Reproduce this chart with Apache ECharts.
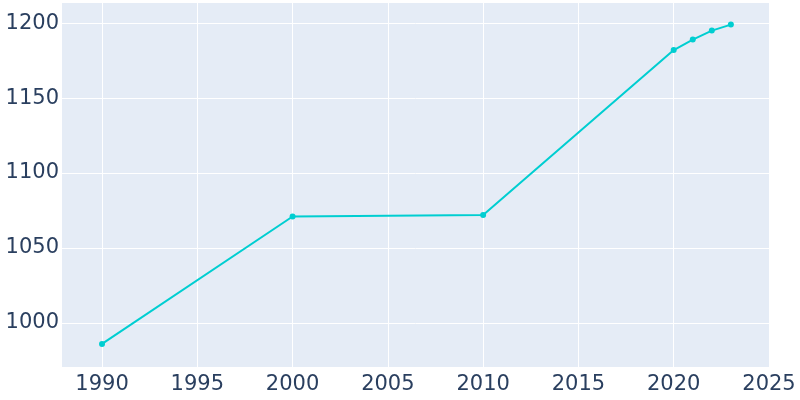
<!DOCTYPE html>
<html><head><meta charset="utf-8">
<script src="https://cdn.jsdelivr.net/npm/echarts@6/dist/echarts.min.js"></script>
<style>html,body{margin:0;padding:0;background:#fff}#c{width:800px;height:400px}</style>
</head><body><div id="c"></div>
<script>
const years = [1990, 2000, 2010, 2020, 2021, 2022, 2023];
const population = [986, 1071, 1072, 1182, 1189, 1195, 1199];
const xTicks = [1990, 1995, 2000, 2005, 2010, 2015, 2020, 2025];
const yTicks = [1000, 1050, 1100, 1150, 1200];

const chart = echarts.init(document.getElementById('c'));
const font = {fontFamily: 'DejaVu Sans', fontSize: 21, color: '#2a3f5f', formatter: v => String(v)};
chart.setOption({
  animation: false,
  grid: {left: 62, right: 31, top: 3, bottom: 33, backgroundColor: '#e5ecf6', show: true, borderWidth: 0},
  xAxis: {
    type: 'value', min: 1987.9, max: 2025,
    axisLine: {show: false}, axisTick: {show: false, customValues: xTicks},
    axisLabel: Object.assign({customValues: xTicks, margin: 7}, font),
    splitLine: {show: true, lineStyle: {color: '#fff', width: 1}}
  },
  yAxis: {
    type: 'value', min: 970.6, max: 1213.4,
    axisLine: {show: false}, axisTick: {show: false, customValues: yTicks},
    axisLabel: Object.assign({customValues: yTicks, margin: 3}, font),
    splitLine: {show: true, lineStyle: {color: '#fff', width: 1}}
  },
  series: [{
    type: 'line',
    data: years.map((y, i) => [y, population[i]]),
    symbol: 'circle', symbolSize: 6,
    lineStyle: {color: '#00ced1', width: 2},
    itemStyle: {color: '#00ced1'}
  }]
});
</script></body></html>
